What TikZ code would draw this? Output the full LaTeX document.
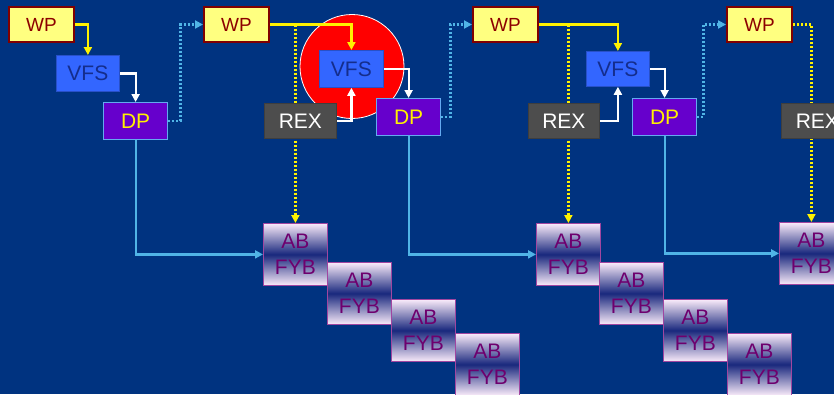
\documentclass[tikz,border=0pt]{standalone}
\usepackage{fontspec}
\setmainfont{Liberation Sans}
\usetikzlibrary{arrows.meta,backgrounds}

\definecolor{bgblue}{RGB}{0,51,128}
\definecolor{wpfill}{RGB}{255,255,128}
\definecolor{wpdraw}{RGB}{128,0,0}
\definecolor{wptext}{RGB}{140,0,0}
\definecolor{vfsfill}{RGB}{51,102,255}
\definecolor{vfsdraw}{RGB}{40,80,200}
\definecolor{vfstext}{RGB}{20,45,140}
\definecolor{dpfill}{RGB}{102,0,204}
\definecolor{dpdraw}{RGB}{100,170,240}
\definecolor{rexfill}{RGB}{77,77,77}
\definecolor{cyanline}{RGB}{80,180,230}
\definecolor{abtext}{RGB}{110,0,110}
\definecolor{abdraw}{RGB}{160,70,160}
\definecolor{ablight}{RGB}{250,235,250}
\definecolor{abdark}{RGB}{25,40,125}

\tikzset{
	box/.style={anchor=north west, inner sep=0pt, font=\fontsize{21}{26}\selectfont},
	wpbox/.style={box, fill=wpfill, draw=wpdraw, line width=2pt, text=wptext,
		minimum width=65pt, minimum height=35pt, font=\fontsize{19}{22}\selectfont},
	vfsbox/.style={box, fill=vfsfill, draw=vfsdraw, line width=0.8pt, text=vfstext,
		minimum width=63pt, minimum height=36pt},
	dpbox/.style={box, fill=dpfill, draw=dpdraw, line width=1.2pt, text=yellow,
		minimum width=64pt, minimum height=37pt},
	rexbox/.style={box, fill=rexfill, draw=rexfill!80!black, line width=0.8pt, text=white,
		minimum width=72pt, minimum height=35pt},
	abbox/.style={box, align=center, draw=abdraw, line width=0.8pt, text=abtext,
		top color=ablight, bottom color=ablight, middle color=abdark,
		minimum width=64pt, minimum height=62pt},
	tip/.style={-{Triangle[length=8pt,width=8pt]}},
	yline/.style={tip, draw=yellow, line width=2.2pt},
	wline/.style={tip, draw=white, line width=2.2pt},
	cline/.style={tip, draw=cyanline, line width=2.2pt},
	ydot/.style={yline, line width=2.6pt, dash pattern=on 2pt off 2pt},
	cdot/.style={cline, line width=2.6pt, dash pattern=on 2pt off 2pt},
}

\begin{document}
\begin{tikzpicture}[x=1pt, y=-1pt]
	\useasboundingbox (0,0) rectangle (834,394);

	% first step
	\node[wpbox] (wp1) at (8,6) {WP};
	\node[vfsbox] (vfs1) at (56,55) {VFS};
	\node[dpbox] (dp1) at (103,102) {DP};

	% second step
	\node[wpbox] (wp2) at (203,6) {WP};
	\node[vfsbox, minimum width=64pt, minimum height=37pt] (vfs2) at (319,50) {VFS};
	\node[rexbox] (rex2) at (264,103) {REX};
	\node[dpbox] (dp2) at (376,98) {DP};

	% third step
	\node[wpbox] (wp3) at (472,6) {WP};
	\node[vfsbox, minimum height=35pt] (vfs3) at (586,51) {VFS};
	\node[rexbox, minimum width=71pt] (rex3) at (528,103) {REX};
	\node[dpbox] (dp3) at (632,98) {DP};

	% fourth step
	\node[wpbox] (wp4) at (726,6) {WP};
	\node[rexbox] (rex4) at (781,103) {REX};

	% staircases
	\node[abbox] (ab21) at (263,223) {AB\\FYB};
	\node[abbox] (ab22) at (327,262) {AB\\FYB};
	\node[abbox] (ab23) at (391,299) {AB\\FYB};
	\node[abbox] (ab24) at (455,333) {AB\\FYB};

	\node[abbox] (ab31) at (536,223) {AB\\FYB};
	\node[abbox] (ab32) at (599,262) {AB\\FYB};
	\node[abbox] (ab33) at (663,299) {AB\\FYB};
	\node[abbox] (ab34) at (727,333) {AB\\FYB};

	\node[abbox] (ab41) at (779,222) {AB\\FYB};

	\begin{scope}[on background layer]
		\fill[bgblue] (0,0) rectangle (834,394);
		\node[circle, fill=red, draw=white, line width=0.8pt, minimum size=104pt,
			inner sep=0pt] (hl) at (352,66.5) {};

		\draw[yline] (wp1) -| (vfs1.north);
		\draw[wline] (vfs1) -| (dp1.north);
		\draw[cdot] (dp1.east) -- ++(12,0) |- (wp2.west);
		\draw[cline] (dp1.south) |- (ab21.west);

		\draw[yline] (wp2) -| (vfs2.north);
		\draw[ydot] (ab21 |- wp2) -- (ab21.north);
		\draw[wline] (rex2) -| (vfs2.south);
		\draw[wline] (vfs2) -| (dp2.north);
		\draw[cdot] (dp2.east) -- ++(9,0) |- (wp3.west);
		\draw[cline] (dp2.south) |- (ab31.west);

		\draw[yline] (wp3) -| (vfs3.north);
		\draw[ydot] (ab31 |- wp3) -- (ab31.north);
		\draw[wline] (rex3) -| (vfs3.south);
		\draw[wline] (vfs3) -| (dp3.north);
		\draw[cdot] (dp3.east) -- ++(6,0) |- (wp4.west);
		\draw[cline] (dp3.south) |- (ab41.west);

		\draw[ydot] (wp4) -| (ab41.north);
	\end{scope}
\end{tikzpicture}
\end{document}
